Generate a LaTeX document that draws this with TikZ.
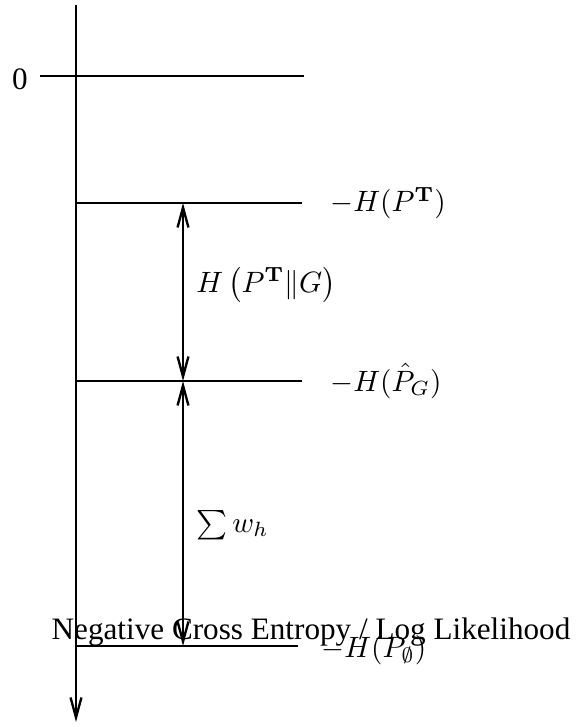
\documentclass[tikz,border=0pt]{standalone}
\usepackage{amsmath,amssymb}
\usepackage[no-math]{fontspec}
\setmainfont{Liberation Serif}
\usetikzlibrary{arrows.meta,positioning}

\tikzset{
  level/.style={thick},
  gap/.style={thick,<->},
  lvllabel/.style={anchor=west},
  plain/.style={font=\fontsize{10.6}{12}\selectfont}
}

\begin{document}
\begin{tikzpicture}[x=0.34pt,y=-0.34pt,
    >={Straight Barb[length=6.8pt,width=3.7pt]}]
        \useasboundingbox (0,0) rectangle (580,727);

        % axis
        \coordinate (axtop) at (76,5);
        \coordinate (axbot) at (76,722);
        \draw[thick,->] (axtop) -- (axbot);

        % levels
        \coordinate (zl) at (40,76);   \coordinate (zr) at (304,76);
        \coordinate (tl) at (76,203);  \coordinate (tr) at (302,203);
        \coordinate (gl) at (76,381);  \coordinate (gr) at (302,381);
        \coordinate (el) at (76,646);  \coordinate (er) at (298,646);
        \draw[level] (zl) -- (zr);
        \draw[level] (tl) -- (tr);
        \draw[level] (gl) -- (gr);
        \draw[level] (el) -- (er);

        \node[plain] (zero) at (20,79) {0};
        \node[lvllabel] (HT) at (320,203) {$-H(P^{\mathbf{T}})$};
        \node[lvllabel] (HG) at (320,381) {$-H(\hat{P}_G)$};
        \node[lvllabel] (H0) at (311,650) {$-H(P_\emptyset)$};

        % gaps
        \coordinate (a1) at (183,203);
        \coordinate (a2) at (183,381);
        \coordinate (a3) at (183,646);
        \draw[gap] (a1) -- (a2);
        \draw[gap] (a2) -- (a3);
        \node[lvllabel] (kl) at (186,285) {$H\left(P^{\mathbf{T}}\| G\right)$};
        \node[lvllabel] (wsum) at (186,525) {$\sum w_h$};

        \node[plain] (axlabel) at (311,632) {Negative Cross Entropy / Log Likelihood};
    \end{tikzpicture}
\end{document}
